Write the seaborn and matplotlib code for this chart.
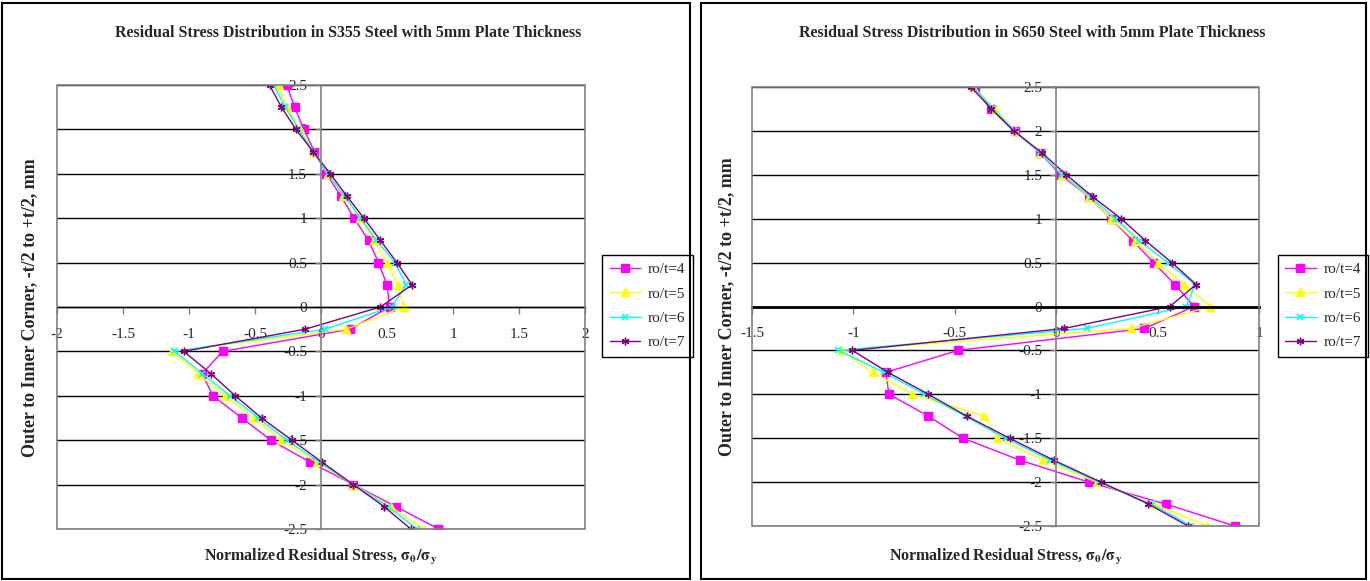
import pandas as pd
import matplotlib.pyplot as plt
import matplotlib.patches as mpatches
import seaborn as sns

# through-thickness positions, outer (+t/2) to inner (-t/2), mm
position = [2.5, 2.25, 2.0, 1.75, 1.5, 1.25, 1.0, 0.75, 0.5, 0.25, 0.0,
            -0.25, -0.5, -0.75, -1.0, -1.25, -1.5, -1.75, -2.0, -2.25, -2.5]

series_names = ['ro/t=4', 'ro/t=5', 'ro/t=6', 'ro/t=7']

# S355 steel, normalized residual stress
s355_ro4 = [-0.26, -0.20, -0.13, -0.05, 0.04, 0.15, 0.25, 0.36, 0.435, 0.50, 0.52,
            0.22, -0.745, -0.90, -0.82, -0.60, -0.38, -0.08, 0.245, 0.57, 0.89]
s355_ro5 = [-0.32, -0.26, -0.16, -0.06, 0.05, 0.17, 0.295, 0.40, 0.50, 0.58, 0.625,
            0.19, -1.13, -0.93, -0.73, -0.51, -0.30, -0.03, 0.245, 0.53, 0.78]
s355_ro6 = [-0.36, -0.27, -0.17, -0.06, 0.05, 0.18, 0.30, 0.42, 0.56, 0.645, 0.535,
            0.03, -1.11, -0.90, -0.69, -0.475, -0.26, -0.01, 0.245, 0.51, 0.725]
s355_ro7 = [-0.39, -0.30, -0.19, -0.06, 0.07, 0.195, 0.325, 0.45, 0.575, 0.69, 0.45,
            -0.12, -1.04, -0.835, -0.65, -0.45, -0.22, 0.01, 0.245, 0.48, 0.68]

# S650 steel, normalized residual stress
s650_ro4 = [-0.40, -0.32, -0.205, -0.08, 0.02, 0.16, 0.27, 0.377, 0.48, 0.585, 0.68,
            0.435, -0.485, -0.84, -0.825, -0.63, -0.46, -0.18, 0.16, 0.54, 0.88]
s650_ro5 = [-0.41, -0.30, -0.205, -0.08, 0.03, 0.16, 0.27, 0.39, 0.50, 0.63, 0.76,
            0.37, -1.06, -0.905, -0.71, -0.355, -0.29, -0.065, 0.20, 0.48, 0.745]
s650_ro6 = [-0.41, -0.31, -0.205, -0.08, 0.03, 0.17, 0.29, 0.41, 0.55, 0.685, 0.64,
            0.15, -1.075, -0.85, -0.65, -0.45, -0.25, -0.03, 0.21, 0.47, 0.665]
s650_ro7 = [-0.42, -0.32, -0.21, -0.07, 0.05, 0.18, 0.32, 0.44, 0.57, 0.69, 0.56,
            0.04, -1.005, -0.83, -0.63, -0.44, -0.23, -0.013, 0.22, 0.455, 0.65]

left_ticks = [-2, -1.5, -1, -0.5, 0, 0.5, 1, 1.5, 2]
right_ticks = [-1.5, -1, -0.5, 0, 0.5, 1]
y_ticks = [-2.5, -2, -1.5, -1, -0.5, 0, 0.5, 1, 1.5, 2, 2.5]

colors = ['#FF00FF', '#FFFF00', '#00FFFF', '#800080']
markers = ['s', '^', 'x', (6, 2, 0)]
msizes = [5.5, 6, 4.5, 5.5]
medges = [1.0, 1.0, 1.2, 1.0]


def make_df(cols):
    rows = []
    for name, vals in zip(series_names, cols):
        for p, v in zip(position, vals):
            rows.append({'series': name, 'pos': p, 'stress': v})
    return pd.DataFrame(rows)


df355 = make_df([s355_ro4, s355_ro5, s355_ro6, s355_ro7])
df650 = make_df([s650_ro4, s650_ro5, s650_ro6, s650_ro7])

sns.set_style("white")
plt.rcParams['font.family'] = ['Liberation Serif', 'DejaVu Serif']
plt.rcParams['mathtext.fontset'] = 'stix'
plt.rcParams['axes.unicode_minus'] = False

fig = plt.figure(figsize=(13.7, 5.81), dpi=100)
ax1 = fig.add_axes([57 / 1370, 1 - 529 / 581, 528 / 1370, 444 / 581])
ax2 = fig.add_axes([752 / 1370, 1 - 526 / 581, 507 / 1370, 439 / 581])


def draw(ax, df, xlim, xticks, zero_lw, legend_center):
    for name, c, m, ms, mew in zip(series_names, colors, markers, msizes, medges):
        sub = df[df['series'] == name]
        sns.lineplot(data=sub, x='stress', y='pos', ax=ax, orient='y', sort=False,
                     estimator=None, color=c, marker=m, markersize=ms,
                     markeredgecolor=c, markeredgewidth=mew, linewidth=1.0,
                     label=name, legend=False)
    ax.set_xlim(*xlim)
    ax.set_ylim(-2.5, 2.5)
    ax.set_xticks(xticks)
    ax.set_yticks(y_ticks)
    ax.set_xticklabels(['%g' % t for t in xticks])
    ax.set_yticklabels(['%g' % t for t in y_ticks])
    ax.set_xlabel('')
    ax.set_ylabel('')
    ax.set_axisbelow(True)
    ax.yaxis.grid(True, color='black', linewidth=1.0)
    ax.xaxis.grid(False)
    for s in ['top', 'right']:
        ax.spines[s].set_visible(False)
    ax.spines['left'].set_position(('data', 0))
    ax.spines['bottom'].set_position(('data', 0))
    ax.spines['left'].set_color('#808080')
    ax.spines['left'].set_linewidth(1.2)
    ax.spines['bottom'].set_color('black')
    ax.spines['bottom'].set_linewidth(zero_lw)
    ax.tick_params(axis='x', direction='out', length=5, width=1, pad=10,
                   labelsize=11, bottom=True, color='#808080')
    ax.tick_params(axis='y', direction='out', length=4, width=1, pad=6,
                   labelsize=11, left=True, color='#808080')
    ax.add_patch(mpatches.Rectangle((0, 0), 1, 1, transform=ax.transAxes,
                                    fill=False, edgecolor='#808080', linewidth=1.2,
                                    zorder=5, clip_on=False))
    ax.legend(loc='center', bbox_to_anchor=legend_center,
              bbox_transform=fig.transFigure, fontsize=11,
              frameon=True, fancybox=False, edgecolor='black', framealpha=1,
              labelspacing=0.7, handlelength=2.0, handletextpad=0.5,
              borderpad=0.5, borderaxespad=0)


draw(ax1, df355, (-2, 2), left_ticks, 1.0, (647.5 / 1370, 1 - 306 / 581))
draw(ax2, df650, (-1.5, 1), right_ticks, 2.0, (1323 / 1370, 1 - 306 / 581))

# chart area borders
fig.patches.append(mpatches.Rectangle((2 / 1370, 2 / 581), 688 / 1370, 576 / 581,
                                      transform=fig.transFigure, fill=False,
                                      edgecolor='black', linewidth=1.5))
fig.patches.append(mpatches.Rectangle((701 / 1370, 2 / 581), 665 / 1370, 576 / 581,
                                      transform=fig.transFigure, fill=False,
                                      edgecolor='black', linewidth=1.5))

fig.text(348 / 1370, 1 - 33 / 581,
         'Residual Stress Distribution in S355 Steel with 5mm Plate Thickness',
         ha='center', va='center', fontsize=11.5, fontweight='bold')
fig.text(1032 / 1370, 1 - 33 / 581,
         'Residual Stress Distribution in S650 Steel with 5mm Plate Thickness',
         ha='center', va='center', fontsize=11.5, fontweight='bold')

ylab = 'Outer to Inner Corner, -t/2 to +t/2, mm'
xlab = r'Normalized Residual Stress, $\mathbf{\sigma_\theta/\sigma_y}$'
fig.text(30 / 1370, 1 - 308 / 581, ylab, rotation=90, ha='center', va='center',
         fontsize=13, fontweight='bold')
fig.text(727 / 1370, 1 - 307 / 581, ylab, rotation=90, ha='center', va='center',
         fontsize=13, fontweight='bold')
fig.text(321 / 1370, 1 - 557 / 581, xlab, ha='center', va='center',
         fontsize=11.5, fontweight='bold')
fig.text(1006 / 1370, 1 - 557 / 581, xlab, ha='center', va='center',
         fontsize=11.5, fontweight='bold')

fig.savefig('out.png', dpi=100)
